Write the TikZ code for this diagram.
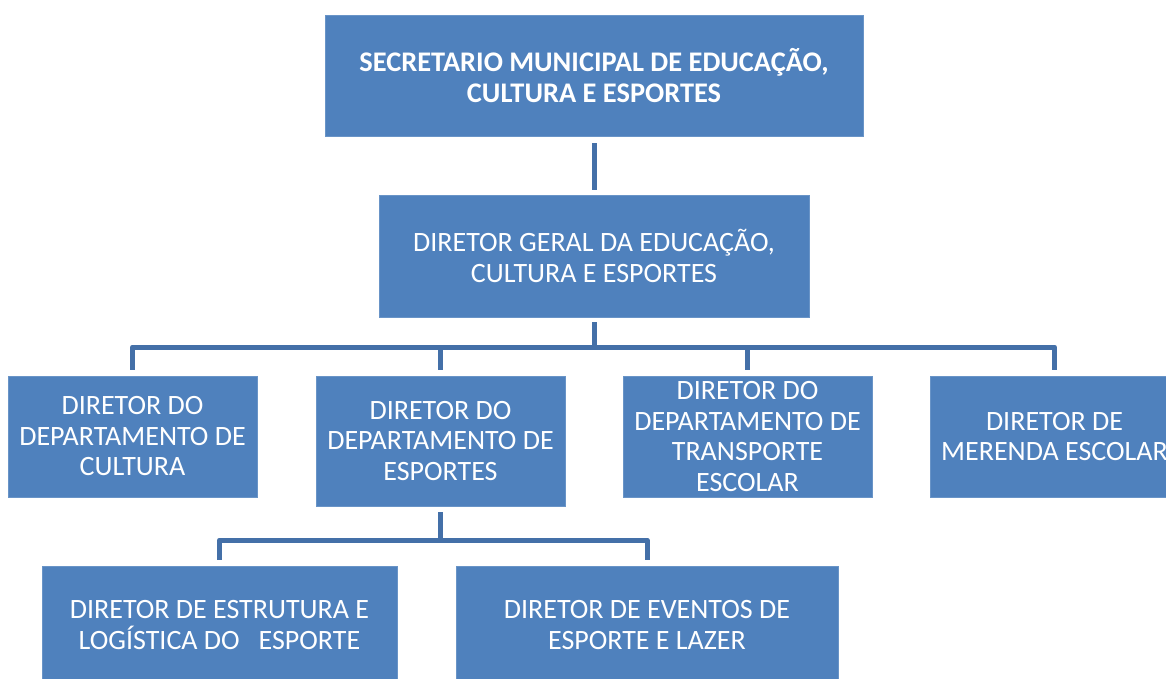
\documentclass[tikz,border=0pt]{standalone}
\usepackage{fontspec}
\setmainfont{Carlito}
\usetikzlibrary{positioning}

\definecolor{boxblue}{HTML}{4F81BD}
\definecolor{linkblue}{HTML}{4470A8}

\tikzset{
  cargo/.style={rectangle, fill=boxblue, draw=boxblue!85!white, line width=0.4pt,
    text=white, align=center, inner sep=0pt,
    font=\fontsize{14}{15.25}\selectfont},
  cargo bold/.style={cargo, font=\fontsize{14.2}{15.5}\selectfont\bfseries},
  link/.style={draw=linkblue, line width=2.5pt, line join=round}
}

\begin{document}
\begin{tikzpicture}[x=1pt, y=-1pt]
  \useasboundingbox (0,0) rectangle (583,339.5);

  % Top levels
  \node[cargo bold, minimum width=269pt, minimum height=60.5pt] (sec) at (297,37.75)
    {SECRETARIO MUNICIPAL DE EDUCAÇÃO,\\CULTURA E ESPORTES};
  \node[cargo, minimum width=215pt, minimum height=61pt] (geral) at (297,128)
    {DIRETOR GERAL DA EDUCAÇÃO,\\CULTURA E ESPORTES};

  % Departments
  \node[cargo, minimum width=124.5pt, minimum height=60.5pt] (cult) at (66.25,218.25)
    {DIRETOR DO\\DEPARTAMENTO DE\\CULTURA};
  \node[cargo, minimum width=124.5pt, minimum height=65pt] (esp) at (220.25,220.5)
    {DIRETOR DO\\DEPARTAMENTO DE\\ESPORTES};
  \node[cargo, minimum width=124.5pt, minimum height=60.5pt] (transp) at (373.75,218.25)
    {DIRETOR DO\\DEPARTAMENTO DE\\TRANSPORTE\\ESCOLAR};
  \node[cargo, minimum width=124.5pt, minimum height=60.5pt] (merenda) at (527.25,218.25)
    {DIRETOR DE\\MERENDA ESCOLAR};

  % Sports
  \node[cargo, minimum width=177.5pt, minimum height=59pt] (estrut) at (109.75,312.5)
    {DIRETOR DE ESTRUTURA E\\LOGÍSTICA DO~~~ESPORTE};
  \node[cargo, minimum width=191pt, minimum height=59pt] (eventos) at (323.5,312.5)
    {DIRETOR DE EVENTOS DE\\ESPORTE E LAZER};

  % Connectors
  \coordinate (busA) at (297,173.5);
  \coordinate (busB) at (220.25,270);
  \draw[link] ([yshift=-3.5pt]sec.south) -- ([yshift=2.5pt]geral.north);
  \draw[link] ([yshift=-2.5pt]geral.south) -- (busA);
  \draw[link] ([yshift=3pt]cult.north) -- (cult.north |- busA)
    -- (merenda.north |- busA) -- ([yshift=3pt]merenda.north);
  \foreach \n in {esp, transp}
    \draw[link] (\n.north |- busA) -- ([yshift=3pt]\n.north);
  \draw[link] ([yshift=-3pt]esp.south) -- (busB);
  \draw[link] ([yshift=3pt]estrut.north) -- (estrut.north |- busB)
    -- (eventos.north |- busB) -- ([yshift=3pt]eventos.north);
\end{tikzpicture}
\end{document}
